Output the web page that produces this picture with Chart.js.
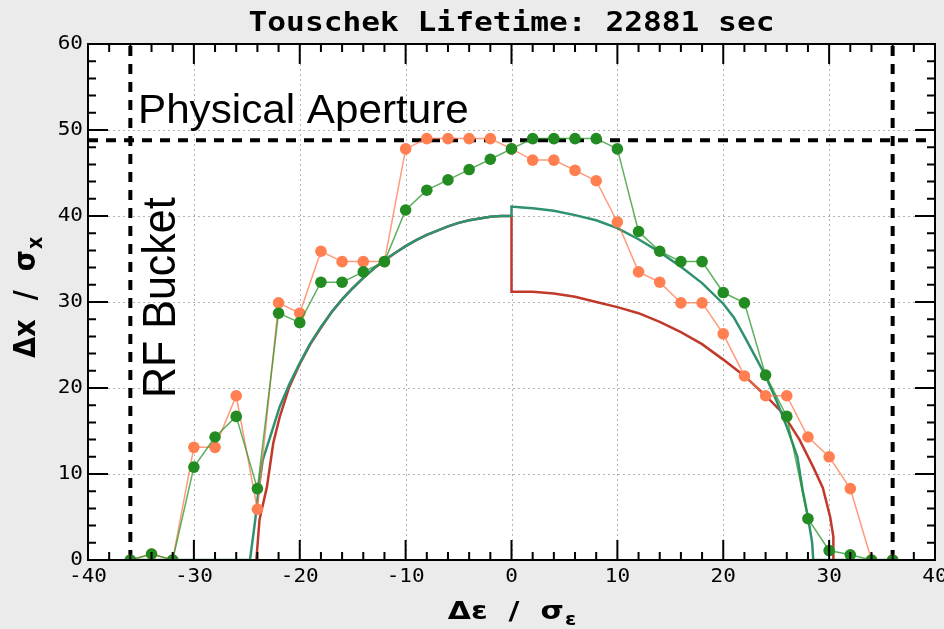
<!DOCTYPE html>
<html><head><meta charset="utf-8">
<script src="https://cdn.jsdelivr.net/npm/chart.js@4"></script>
<style>html,body{margin:0;padding:0;background:#ebebeb}</style>
</head><body>
<canvas id="c" width="944" height="629" style="width:944px;height:629px;display:block"></canvas>
<script>
// ---- data ----
const epsPoints = [-36,-34,-32,-30,-28,-26,-24,-22,-20,-18,-16,-14,-12,-10,-8,-6,-4,-2,0,2,4,6,8,10,12,14,16,18,20,22,24,26,28,30,32,34,36];
const orangeAperture = [0,0.7,0,13.1,13.1,19.1,5.9,29.9,28.7,35.9,34.7,34.7,34.7,47.8,49.0,49.0,49.0,49.0,47.8,46.5,46.5,45.3,44.1,39.3,33.5,32.3,29.9,29.9,26.3,21.4,19.1,19.1,14.3,12.0,8.3,0,0];
const greenAperture  = [0,0.7,0,10.8,14.3,16.7,8.3,28.7,27.6,32.3,32.3,33.5,34.7,40.7,43.0,44.2,45.4,46.6,47.8,49.0,49.0,49.0,49.0,47.8,38.2,35.9,34.7,34.7,31.1,29.9,21.5,16.7,4.8,1.1,0.6,0,0];

const redCurveX = [-24.1,-23.8,-23.1,-22.5,-21.9,-21,-20,-19,-18,-17,-16,-15,-14,-13,-12,-11,-10,-9,-8,-7,-6,-5,-4,-3,-2,-1,0,0,2,4,6,8,10,12,14,16,18,20,22,24,25.6,27.2,28.5,29.4,30.1,30.4,30.4];
const redCurveY = [0,4.7,8.5,13.6,16.6,20.1,22.8,25.1,27.0,28.8,30.3,31.6,32.8,33.9,34.8,35.7,36.5,37.2,37.8,38.3,38.8,39.2,39.5,39.7,39.9,40.0,40.0,31.2,31.2,31.0,30.6,30.0,29.4,28.7,27.7,26.5,25.1,23.3,21.4,19.1,17.1,14.0,10.8,8.4,5.0,2.7,0];

const tealCurveX = [-36,-24.7,-24.2,-23.9,-23.5,-22.8,-21.9,-21,-20,-19,-18,-17,-16,-15,-14,-13,-12,-11,-10,-9,-8,-7,-6,-5,-4,-3,-2,-1,0,0,1,2,4,6,8,10,12,14,16,18,20,21,22,23,24,25,26,27,27.5,28,28.4,28.5,36];
const tealCurveY = [0,0,4.7,8.1,11.6,14.3,17.8,20.4,22.9,25.2,27.1,28.8,30.3,31.6,32.8,33.9,34.9,35.7,36.5,37.2,37.8,38.3,38.8,39.2,39.5,39.7,39.9,40.0,40.0,41.1,41.0,40.9,40.6,40.1,39.5,38.6,37.3,35.8,34.1,32.2,29.8,28.2,26.0,23.7,21.4,18.6,15.5,12.0,8.1,5.0,2.0,0,0];

const physicalApertureY = 48.8;
const rfBucketX = [-36, 36];
const xTicks = [-40,-30,-20,-10,0,10,20,30,40];
const yTicks = [0,10,20,30,40,50,60];
const titleText = 'Touschek Lifetime: 22881 sec';

// ---- helpers ----
const pts = (xs, ys) => xs.map((x, i) => ({x, y: ys[i]}));

function txt(ctx, s, x, y, font, align, base, sx, sy, rot) {
  ctx.save();
  ctx.translate(x, y);
  if (rot) ctx.rotate(rot);
  ctx.scale(sx || 1, sy || 1);
  ctx.font = font; ctx.textAlign = align; ctx.textBaseline = base; ctx.fillStyle = '#000';
  ctx.fillText(s, 0, 0);
  ctx.restore();
}
function subLabel(ctx, main, sub, cx, cy, rot, fMain, fSub, drop, sx, sy) {
  ctx.save();
  ctx.translate(cx, cy);
  if (rot) ctx.rotate(rot);
  ctx.scale(sx, sy);
  ctx.font = fMain; const w1 = ctx.measureText(main).width;
  ctx.font = fSub; const w2 = ctx.measureText(sub).width;
  const start = -(w1 + w2) / 2;
  ctx.fillStyle = '#000'; ctx.textBaseline = 'alphabetic'; ctx.textAlign = 'left';
  ctx.font = fMain; ctx.fillText(main, start, 0);
  ctx.font = fSub; ctx.fillText(sub, start + w1 + 1, drop);
  ctx.restore();
}

const framePlugin = {
  id: 'frame',
  beforeDraw(chart) {
    const {ctx, chartArea: a, scales: {x, y}} = chart;
    ctx.save();
    ctx.fillStyle = '#ebebeb'; ctx.fillRect(0, 0, chart.width, chart.height);
    ctx.fillStyle = '#ffffff'; ctx.fillRect(a.left, a.top, a.right - a.left, a.bottom - a.top);
    ctx.strokeStyle = '#b4b4b4'; ctx.lineWidth = 1; ctx.setLineDash([2, 3]);
    xTicks.slice(1, -1).forEach(v => { const p = Math.round(x.getPixelForValue(v)) + 0.5; ctx.beginPath(); ctx.moveTo(p, a.top); ctx.lineTo(p, a.bottom); ctx.stroke(); });
    yTicks.slice(1, -1).forEach(v => { const p = Math.round(y.getPixelForValue(v)) + 0.5; ctx.beginPath(); ctx.moveTo(a.left, p); ctx.lineTo(a.right, p); ctx.stroke(); });
    ctx.restore();
  },
  afterDatasetsDraw(chart) {
    const {ctx, chartArea: a, scales: {x, y}} = chart;
    ctx.save();
    // ticks inward
    ctx.strokeStyle = '#000'; ctx.lineWidth = 2; ctx.setLineDash([]);
    for (let v = -40; v <= 40; v += 2) {
      const p = x.getPixelForValue(v); const L = (v % 10 === 0) ? 20 : 8;
      ctx.beginPath(); ctx.moveTo(p, a.bottom); ctx.lineTo(p, a.bottom - L); ctx.moveTo(p, a.top); ctx.lineTo(p, a.top + L); ctx.stroke();
    }
    for (let v = 0; v <= 60; v += 2) {
      const p = y.getPixelForValue(v); const L = (v % 10 === 0) ? 20 : 8;
      ctx.beginPath(); ctx.moveTo(a.left, p); ctx.lineTo(a.left + L, p); ctx.moveTo(a.right, p); ctx.lineTo(a.right - L, p); ctx.stroke();
    }
    ctx.lineWidth = 2;
    ctx.strokeRect(a.left, a.top, a.right - a.left, a.bottom - a.top);
    // tick labels
    xTicks.forEach(v => txt(ctx, String(v), x.getPixelForValue(v), a.bottom + 7, '20px "DejaVu Sans Mono"', 'center', 'top', 1.05, 1));
    yTicks.forEach(v => txt(ctx, String(v), a.left - 5, y.getPixelForValue(v), '20px "DejaVu Sans Mono"', 'right', 'middle', 1.05, 1));
    // title
    txt(ctx, titleText, (a.left + a.right) / 2, 31, 'bold 26px "DejaVu Sans Mono"', 'center', 'alphabetic', 1.2, 1);
    // axis titles
    subLabel(ctx, 'Δε  /  σ', 'ε', (a.left + a.right) / 2, 619, 0, 'bold 25px "DejaVu Sans"', 'bold 17px "DejaVu Sans"', 6, 1.2, 1);
    subLabel(ctx, 'Δx  /  σ', 'x', 35, (a.top + a.bottom) / 2 - 4, -Math.PI / 2, 'bold 26px "DejaVu Sans"', 'bold 18px "DejaVu Sans"', 6, 1.05, 1.15);
    // annotations
    txt(ctx, 'Physical Aperture', 138, 123, '40px "Liberation Sans"', 'left', 'alphabetic', 1.055, 1);
    txt(ctx, 'RF Bucket', 175, 398, '43px "Liberation Sans"', 'left', 'alphabetic', 1, 1.08, -Math.PI / 2);
    ctx.restore();
  }
};

const dashStyle = {borderColor: '#000', borderWidth: 4, borderDash: [10, 8], pointRadius: 0, showLine: true, fill: false};

new Chart(document.getElementById('c'), {
  type: 'scatter',
  data: {
    datasets: [
      Object.assign({label: 'aperture', data: [{x: -40, y: physicalApertureY}, {x: 40, y: physicalApertureY}], order: 5}, dashStyle),
      Object.assign({label: 'bucketL', data: [{x: rfBucketX[0], y: 0}, {x: rfBucketX[0], y: 60}], order: 5}, dashStyle),
      Object.assign({label: 'bucketR', data: [{x: rfBucketX[1], y: 0}, {x: rfBucketX[1], y: 60}], order: 5}, dashStyle),
      {label: 'red', data: pts(redCurveX, redCurveY), showLine: true, borderColor: '#c0392b', borderWidth: 2.5, pointRadius: 0, order: 4, tension: 0},
      {label: 'teal', data: pts(tealCurveX, tealCurveY), showLine: true, borderColor: '#2e9170', borderWidth: 2.5, pointRadius: 0, order: 3, tension: 0},
      {label: 'orange', data: pts(epsPoints, orangeAperture), showLine: true, borderColor: 'rgba(255,120,80,0.75)', borderWidth: 1.5,
        pointRadius: 5.8, pointBackgroundColor: '#ff7f50', pointBorderWidth: 0, order: 2},
      {label: 'green', data: pts(epsPoints, greenAperture), showLine: true, borderColor: 'rgba(40,150,40,0.75)', borderWidth: 1.5,
        pointRadius: 5.8, pointBackgroundColor: '#228b22', pointBorderWidth: 0, order: 1}
    ]
  },
  options: {
    responsive: false, animation: false, devicePixelRatio: 1,
    layout: {padding: {top: 44, right: 9, left: 0, bottom: 0}},
    plugins: {legend: {display: false}, tooltip: {enabled: false}, title: {display: false}},
    scales: {
      x: {type: 'linear', min: -40, max: 40, ticks: {display: false}, grid: {display: false}, border: {display: false},
          afterFit: s => { s.height = 69; }},
      y: {type: 'linear', min: 0, max: 60, ticks: {display: false}, grid: {display: false}, border: {display: false},
          afterFit: s => { s.width = 88; }}
    }
  },
  plugins: [framePlugin]
});
</script>
</body></html>
